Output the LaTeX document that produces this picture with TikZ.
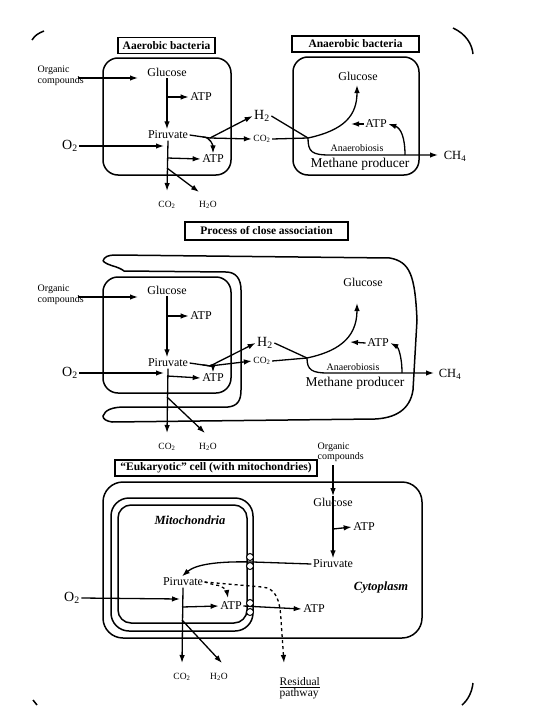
\documentclass[tikz,border=0pt]{standalone}
\usepackage{fontspec}
\setmainfont{Liberation Serif}
\usetikzlibrary{arrows.meta, positioning, calc}
\tikzset{>={Latex[length=8pt,width=5.5pt]}}
\tikzset{
  lbl/.style={font=\fontsize{12}{14}\selectfont, inner sep=1pt},
  chem/.style={font=\fontsize{9.5}{10}\selectfont, inner sep=1pt},
  gas/.style={font=\fontsize{14}{16}\selectfont, inner sep=1pt},
  orgtext/.style={font=\fontsize{10}{10.5}\selectfont, align=left, anchor=west, inner sep=0pt},
  title/.style={draw, line width=1.1pt, font=\bfseries\fontsize{11.5}{13}\selectfont,
    inner sep=1pt, minimum height=16pt},
  cell/.style={line width=1.5pt, rounded corners=15pt},
  methane/.style={font=\fontsize{13.5}{15}\selectfont, inner sep=1pt},
  anaer/.style={font=\fontsize{10}{11}\selectfont, inner sep=1pt},
  organelle/.style={font=\bfseries\itshape\fontsize{12.5}{14}\selectfont, inner sep=1pt},
  carrier/.style={circle, draw, line width=1pt, fill=white, inner sep=0pt, minimum size=7pt},
}

\begin{document}
\begin{tikzpicture}[x=1pt, y=-1pt, line width=1.3pt]
\useasboundingbox (0,0) rectangle (540,720);

% corners of the frame
\draw[line width=1.5pt] (32,40) .. controls (35,35) and (39,33) .. (44,31);
\draw[line width=1.5pt] (453,28) .. controls (466,34) and (472,44) .. (473,54);
\draw[line width=1.5pt] (473,683) .. controls (472,692) and (468,700) .. (462,705);
\draw[line width=1.5pt] (33,700) -- (37,705);

%%% aerobic bacteria
\node[title, minimum width=97pt] (tAer) at (166.5,45.5) {Aaerobic bacteria};
\draw[cell] (103,58) rectangle (231,175);
\node[orgtext] (orgA) at (37,76) {Organic\\compounds};
\node[lbl] (gluA) at (167,72) {Glucose};
\node[lbl] (atpA1) at (201,97) {ATP};
\node[lbl] (pirA) at (168,135) {Piruvate};
\node[lbl] (atpA2) at (213,159) {ATP};
\node[gas] (o2A) at (70,146) {O\textsubscript{2}};
\node[chem] (co2A) at (167,205) {CO\textsubscript{2}};
\node[chem] (h2oA) at (208,205) {H\textsubscript{2}O};
\node[gas] (h2A) at (262,116) {H\textsubscript{2}};
\node[chem] (co2B) at (262,139) {CO\textsubscript{2}};
\coordinate (jA) at (210,138);
\draw[->] (78,78) -- (138,78);
\draw[->] (gluA.south) -- (gluA.south |- pirA.north);
\draw[->] (166,97) -- (atpA1.west);
\draw (pirA.east) -- (jA);
\draw[->] (jA) -- (h2A.west);
\draw[->] (jA) -- (co2B.west);
\draw[->] (203,137) to[out=0,in=90] (atpA2.north);
\draw[->] (o2A.east) -- (164,146);
\draw[->] (pirA.south) -- (167,191);
\draw[->] (167,158) -- (atpA2.west);
\draw[->] (167,168) -- (199,192);

%%% anaerobic bacteria
\node[title, minimum width=127pt] (tAna) at (355.5,44) {Anaerobic bacteria};
\draw[cell] (293,57) rectangle (419,175);
\node[lbl] (gluB) at (358,76) {Glucose};
\node[lbl] (atpB) at (376,124) {ATP};
\node[anaer] (anB) at (357,148) {Anaerobiosis};
\node[methane] (mpB) at (360,164) {Methane producer};
\node[lbl, font=\fontsize{12.5}{14}\selectfont] (ch4A) at (455,156) {CH\textsubscript{4}};
\coordinate (jB) at (308,138);
\draw (h2A.east) -- (jB);
\draw (co2B.east) -- (jB);
\draw[->] (jB) .. controls (345,130) and (357,115) .. (357,85);
\draw[->] (atpB.west) -- (351,124);
\draw[->] (jB) .. controls (308,152) and (312,155) .. (330,155) -- (438,155);
\draw[->] (405,155) .. controls (405,138) and (401,128) .. (atpB.east);

%%% close association
\node[title, minimum width=163pt, minimum height=18pt] (tClo) at (266.5,231) {Process of close association};
\draw[line width=1.5pt]
  (103,261) .. controls (104,257) and (108,255) .. (115,255) -- (390,258)
  .. controls (410,262) and (415,275) .. (417,320) -- (413,390)
  .. controls (410,410) and (395,418) .. (375,419) -- (112,422)
  .. controls (106,421) and (103,419) .. (103,416)
  .. controls (105,410) and (112,407) .. (125,407) -- (228,407)
  .. controls (238,406) and (241,400) .. (241,390) -- (241,290)
  .. controls (241,279) and (236,272) .. (226,272) -- (124,271)
  .. controls (118,266) and (108,266) .. (103,261);
\draw[cell] (103,277) rectangle (231,393);
\node[orgtext] (orgC) at (37,295) {Organic\\compounds};
\node[lbl] (gluC) at (167,290) {Glucose};
\node[lbl] (atpC1) at (201,316) {ATP};
\node[lbl] (pirC) at (168,363) {Piruvate};
\node[lbl] (atpC2) at (213,378) {ATP};
\node[gas] (o2C) at (70,373) {O\textsubscript{2}};
\node[chem] (co2C) at (167,447) {CO\textsubscript{2}};
\node[chem] (h2oC) at (208,447) {H\textsubscript{2}O};
\node[gas] (h2C) at (265,343) {H\textsubscript{2}};
\node[chem] (co2D) at (262,361) {CO\textsubscript{2}};
\coordinate (jC) at (210,366);
\draw[->] (78,297) -- (138,297);
\draw[->] (gluC.south) -- (gluC.south |- pirC.north);
\draw[->] (166,316) -- (atpC1.west);
\draw (pirC.east) -- (jC);
\draw[->] (jC) -- (h2C.west);
\draw[->] (jC) -- (co2D.west);
\draw[->] (203,365) to[out=0,in=90] (atpC2.north);
\draw[->] (o2C.east) -- (164,373);
\draw[->] (pirC.south) -- (167,433);
\draw[->] (167,376) -- (atpC2.west);
\draw[->] (167,397) -- (205,433);
\node[lbl] (gluD) at (363,282) {Glucose};
\node[lbl] (atpD) at (378,343) {ATP};
\node[anaer] (anD) at (353,367) {Anaerobiosis};
\node[methane] (mpD) at (355,383) {Methane producer};
\node[lbl, font=\fontsize{12.5}{14}\selectfont] (ch4B) at (450,374) {CH\textsubscript{4}};
\coordinate (jD) at (307,358);
\draw (h2C.east) -- (jD);
\draw (co2D.east) -- (jD);
\draw[->] (jD) .. controls (335,352) and (357,340) .. (357,303);
\draw[->] (atpD.west) -- (350,342);
\draw[->] (jD) .. controls (307,370) and (312,373) .. (328,373) -- (434,373);
\draw[->] (402,373) .. controls (402,356) and (398,347) .. (atpD.east);

%%% eukaryotic cell
\node[title, minimum width=202pt] (tEuk) at (216,468) {``Eukaryotic'' cell (with mitochondries)};
\draw[cell, rounded corners=20pt] (103,482) rectangle (422,638);
\draw[cell, rounded corners=18pt] (111,498) rectangle (253,631);
\draw[cell, rounded corners=13pt] (118,505) rectangle (247,623);
\node[organelle] (mito) at (190,520) {Mitochondria};
\node[organelle] (cyto) at (381,588) {Cytoplasm};
\node[orgtext] (orgE) at (317,452) {Organic\\compounds};
\node[lbl] (gluE) at (333,502) {Glucose};
\node[lbl] (atpE1) at (364,527) {ATP};
\node[lbl] (pirE) at (333,564) {Piruvate};
\node[lbl] (pirM) at (183,582) {Piruvate};
\node[lbl] (atpM) at (231,606) {ATP};
\node[lbl] (atpE2) at (314,609) {ATP};
\node[gas] (o2E) at (72,598) {O\textsubscript{2}};
\node[chem] (co2E) at (182,677) {CO\textsubscript{2}};
\node[chem] (h2oE) at (219,677) {H\textsubscript{2}O};
\node[lbl, align=left, anchor=west, font=\fontsize{11.5}{11}\selectfont] (res) at (278,688) {\underline{Residual}\\pathway};
\draw[->] (333,465) -- (gluE.north);
\draw[->] (gluE.north) -- (pirE.north);
\draw[->] (333,529) -- (atpE1.west);
\draw[->] (pirE.west) -- (253,562) .. controls (215,561) and (195,565) .. ([xshift=-1pt]pirM.north);
\draw[dashed, ->] (pirM.east) -- (215,585) to[out=0,in=100] (228,598);
\draw[dashed, ->] (pirM.east) -- (262,587) .. controls (276,588) and (280,600) .. (281,620) -- (284,663);
\draw[->] (182,607) -- (atpM.west);
\draw[->] (atpM.east) -- (atpE2.west);
\draw[->] (o2E.east) -- (180,599);
\draw[->] (pirM.south) -- (182,663);
\draw[->] (182,620) -- (222,663);
\foreach \yy in {557,566,603,612}
  \node[carrier] (car\yy) at (250,\yy) {};

\end{tikzpicture}
\end{document}
